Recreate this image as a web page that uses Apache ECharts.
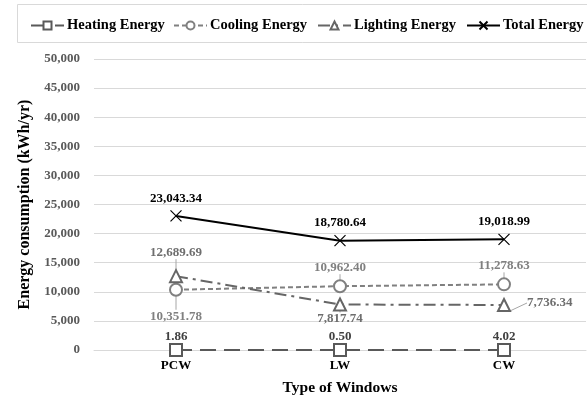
<!DOCTYPE html>
<html><head><meta charset="utf-8">
<script src="https://cdn.jsdelivr.net/npm/echarts@6/dist/echarts.min.js"></script>
<style>html,body{margin:0;padding:0;background:#fff}#c{width:587px;height:401px}</style>
</head><body><div id="c"></div>
<script>
const categories = ['PCW', 'LW', 'CW'];
const heating = [1.86, 0.50, 4.02];
const cooling = [10351.78, 10962.40, 11278.63];
const lighting = [12689.69, 7817.74, 7736.34];
const total = [23043.34, 18780.64, 19018.99];
const seriesNames = ['Heating Energy', 'Cooling Energy', 'Lighting Energy', 'Total Energy'];
const yTicks = [0, 5000, 10000, 15000, 20000, 25000, 30000, 35000, 40000, 45000, 50000];

const FONT = 'Liberation Serif';
const fmt = v => v.toLocaleString('en-US', {minimumFractionDigits: 2, maximumFractionDigits: 2});
const chart = echarts.init(document.getElementById('c'), null, {renderer: 'canvas'});

const lbl = (color, pos, dist) => ({show: true, position: pos, distance: dist, color: color, fontFamily: FONT, fontWeight: 'bold', fontSize: 13, formatter: p => fmt(p.value)});
const legendLefts = [30, 173, 317, 466];

chart.setOption({
  animation: false,
  textStyle: {fontFamily: FONT},
  graphic: [{type: 'rect', shape: {x: 17.5, y: 4.5, width: 580, height: 38}, style: {fill: 'none', stroke: '#d9d9d9', lineWidth: 1}, silent: true}],
  legend: seriesNames.map((n, i) => ({
    top: 18, left: legendLefts[i], itemWidth: 33, itemHeight: 10, itemGap: 0, padding: 0,
    textStyle: {fontFamily: FONT, fontWeight: 'bold', fontSize: 14.5, color: '#000', padding: [0, 0, 0, -2]},
    data: [n]
  })),
  grid: {left: 94, right: 1, top: 59, bottom: 51},
  xAxis: {
    type: 'category', data: categories, boundaryGap: true,
    axisLine: {show: true, lineStyle: {color: '#d9d9d9'}}, axisTick: {show: false},
    axisLabel: {color: '#000', fontFamily: FONT, fontWeight: 'bold', fontSize: 13, margin: 9},
    name: 'Type of Windows', nameLocation: 'middle', nameGap: 30,
    nameTextStyle: {color: '#000', fontFamily: FONT, fontWeight: 'bold', fontSize: 15.5}
  },
  yAxis: {
    type: 'value', min: yTicks[0], max: yTicks[yTicks.length - 1], interval: 5000,
    axisLine: {show: false}, axisTick: {show: false},
    splitLine: {lineStyle: {color: '#d9d9d9'}},
    axisLabel: {color: '#595959', fontFamily: FONT, fontWeight: 'bold', fontSize: 13, margin: 14,
      formatter: v => v.toLocaleString('en-US')},
    name: 'Energy consumption (kWh/yr)', nameLocation: 'middle', nameGap: 60, nameRotate: 90,
    nameTextStyle: {color: '#000', fontFamily: FONT, fontWeight: 'bold', fontSize: 16}
  },
  series: [
    {
      name: seriesNames[0], type: 'line', data: heating, z: 3,
      symbol: 'emptyRect', symbolSize: 12,
      lineStyle: {color: '#595959', width: 2, type: [16, 8]},
      itemStyle: {color: '#595959', borderWidth: 1.5},
      label: lbl('#404040', 'top', 0)
    },
    {
      name: seriesNames[1], type: 'line', z: 4,
      data: cooling.map((v, i) => i === 0 ? {value: v, label: {position: 'bottom'}} : v),
      symbol: 'emptyCircle', symbolSize: 12,
      lineStyle: {color: '#808080', width: 2, type: [5, 3]},
      itemStyle: {color: '#808080', borderWidth: 1.5},
      label: lbl('#808080', 'top', 5),
      labelLine: {show: true, lineStyle: {color: '#a6a6a6', width: 1}},
      labelLayout: p => p.dataIndex === 0 ? {dy: 8} : {}
    },
    {
      name: seriesNames[2], type: 'line', z: 4,
      data: lighting.map((v, i) => i === 0 ? {value: v, label: {position: 'top', distance: 5}} : (i === 2 ? {value: v, label: {position: 'right', distance: 5}} : v)),
      symbol: 'emptyTriangle', symbolSize: 12,
      lineStyle: {color: '#666666', width: 2, type: [12, 5, 3, 5]},
      itemStyle: {color: '#666666', borderWidth: 1.5},
      label: lbl('#6e6e6e', 'bottom', 1),
      labelLine: {show: true, lineStyle: {color: '#a6a6a6', width: 1}},
      labelLayout: p => p.dataIndex === 0 ? {dy: -5} : (p.dataIndex === 2 ? {dx: 11, dy: -2} : {})
    },
    {
      name: seriesNames[3], type: 'line', data: total, z: 5,
      symbol: 'path://M0,0L10,10M10,0L0,10', symbolSize: 11,
      lineStyle: {color: '#000', width: 2},
      itemStyle: {color: '#000', borderColor: '#000', borderWidth: 1.2},
      label: lbl('#000', 'top', 5)
    }
  ]
});
</script></body></html>
